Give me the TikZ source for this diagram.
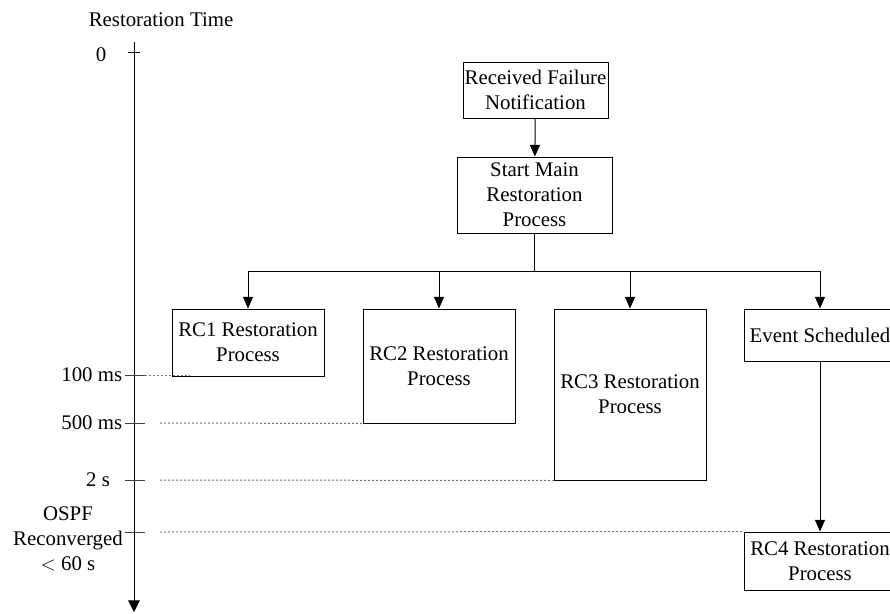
\documentclass[tikz,border=0pt]{standalone}
\usepackage{fontspec}
\setmainfont{Liberation Serif}
\usetikzlibrary{arrows.meta}

\tikzset{
  procbox/.style 2 args={draw, line width=0.6pt, align=center, inner sep=0pt,
    minimum width=#1*0.6pt, minimum height=#2*0.6pt},
  flow/.style={line width=0.6pt, -{Triangle[length=7pt,width=6pt]}},
  timetick/.style={line width=0.6pt, black!75},
  guide/.style={line width=0.6pt, black!55, dash pattern=on 1.2pt off 1.2pt},
}

\begin{document}
\begin{tikzpicture}[x=0.6pt, y=-0.6pt, every node/.style={font=\fontsize{12.5}{15}\selectfont}]
  \clip (0,0) rectangle (890,613);

  % time axis
  \node (ttl) at (161,20) {Restoration Time};
  \coordinate (axtop) at (134,42);
  \coordinate (axbot) at (134,612);
  \draw[line width=0.6pt, -{Triangle[length=7pt,width=7pt]}] (axtop) -- (axbot);
  \draw[line width=0.6pt] (128,52) -- (140,52);
  \node (t0) at (101,55) {0};

  \foreach \y/\nm in {375/t1, 423/t2, 480/t3, 532/t4} {
    \draw[timetick] (125,\y) -- (145,\y);
    \coordinate (\nm) at (160,\y);
  }
  \node[anchor=east] (l1) at (128,375) {100 ms};
  \node[anchor=east] (l2) at (128,423) {500 ms};
  \node (l3) at (98,480) {2 s};
  \node[align=center] (l4) at (68,539) {OSPF\\Reconverged\\$<$ 60 s};

  % process boxes
  \node[procbox={145}{56}] (rfn) at (535.5,90) {Received Failure\\Notification};
  \node[procbox={155}{76}] (smrp) at (534.5,195) {Start Main\\Restoration\\Process};
  \node[procbox={152}{67}] (rc1) at (248,342.5) {RC1 Restoration\\Process};
  \node[procbox={152}{114}] (rc2) at (439,366) {RC2 Restoration\\Process};
  \node[procbox={152}{171}] (rc3) at (630,394.5) {RC3 Restoration\\Process};
  \node[procbox={152}{52}] (evs) at (820,335) {Event Scheduled};
  \node[procbox={152}{58}] (rc4) at (820,561) {RC4 Restoration\\Process};

  \coordinate (bar) at (534.5,271);
  \draw[flow] (rfn) -- (smrp);
  \foreach \n in {rc1,rc2,rc3,evs}
    \draw[flow] (smrp.south) -- (bar) -| (\n.north);
  \draw[flow] (evs) -- (rc4);

  % dotted guides
  \draw[guide] (145,375) -- (190,375);
  \draw[guide] (t2) -- (rc2.south west);
  \draw[guide] (t3) -- (rc3.south west);
  \draw[guide] (t4) -- (rc4.north west);
\end{tikzpicture}
\end{document}
